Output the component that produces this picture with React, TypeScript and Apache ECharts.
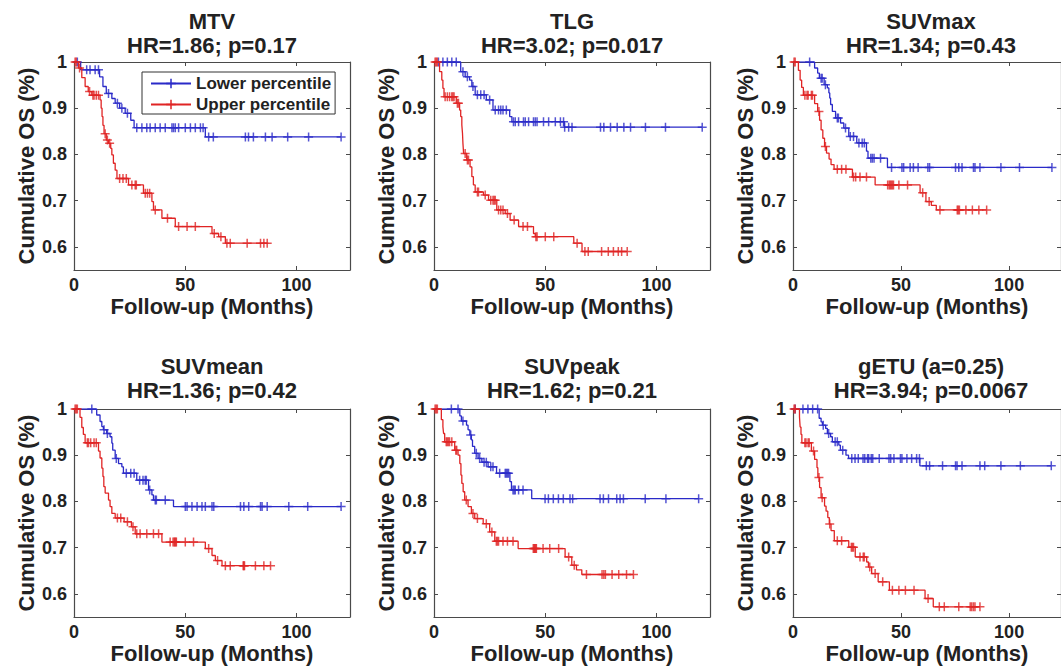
import React, { useEffect, useRef } from 'react';
import * as echarts from 'echarts';

type Step = [number, number];

// ---------- text ----------
const PANEL_TITLES = ['MTV', 'TLG', 'SUVmax', 'SUVmean', 'SUVpeak', 'gETU (a=0.25)'];
const PANEL_STATS = [
  'HR=1.86; p=0.17',
  'HR=3.02; p=0.017',
  'HR=1.34; p=0.43',
  'HR=1.36; p=0.42',
  'HR=1.62; p=0.21',
  'HR=3.94; p=0.0067',
];
const GROUP_NAMES = ['Lower percentile', 'Upper percentile'];
const X_LABEL = 'Follow-up (Months)';
const Y_LABEL = 'Cumulative OS (%)';
const X_TICKS = [0, 50, 100];
const Y_TICKS = [0.6, 0.7, 0.8, 0.9, 1];

// ---------- data: steps = [time, survival after the drop]; censor = censoring times ----------
const mtvLowerSteps: Step[] = [[3, 0.983], [11.5, 0.968], [13, 0.947], [14.5, 0.932], [17, 0.921], [18.5, 0.911], [20.5, 0.9], [23, 0.889], [25.5, 0.874], [27, 0.858], [59, 0.838]];
const mtvLowerCensor = [1.5, 5.7, 7.2, 9.5, 11, 15.5, 19.5, 21.5, 24, 28.2, 30.5, 32.7, 34.2, 36.5, 38.7, 41, 44, 44.7, 45.5, 47, 50, 52.3, 54.5, 56.8, 58, 60.5, 62.6, 77, 78.4, 80.6, 86, 89, 96, 105.4, 120];
const mtvUpperSteps: Step[] = [[2, 0.987], [3.5, 0.966], [5, 0.947], [6.4, 0.936], [8, 0.928], [11.7, 0.918], [12.2, 0.9], [12.6, 0.882], [13, 0.863], [13.5, 0.845], [14.5, 0.831], [15.5, 0.824], [16.5, 0.813], [17, 0.799], [17.7, 0.781], [18.5, 0.766], [19.3, 0.748], [24.5, 0.734], [31.2, 0.716], [35, 0.698], [35.7, 0.68], [39.5, 0.662], [45.5, 0.644], [62, 0.629], [65, 0.622], [68, 0.608]];
const mtvUpperCensor = [0.5, 1, 2.5, 7, 8.5, 9, 10, 11, 14, 15, 16, 20.5, 22, 23.5, 26, 27.5, 28, 32, 33, 34, 36.5, 42, 47, 50.8, 54.5, 63, 66, 68.7, 70.2, 77.8, 83.8, 85.3, 86.8];

const tlgLowerSteps: Step[] = [[12, 0.979], [14, 0.968], [16, 0.961], [17, 0.947], [18.5, 0.929], [23.5, 0.918], [26.5, 0.896], [34, 0.882], [35, 0.871], [58.5, 0.859]];
const tlgLowerCensor = [2, 4, 6, 8, 10, 13, 15, 17.5, 19.5, 21, 22.5, 25, 27.5, 29, 30, 31, 32.5, 35.7, 36.5, 38, 40.2, 41, 42.5, 44.7, 45.5, 46.3, 49.2, 51.5, 54.5, 56.8, 58.2, 58.7, 60.5, 62, 74.8, 76.3, 79.3, 82.3, 85.3, 88.3, 95, 104, 120.5];
const tlgUpperSteps: Step[] = [[2.5, 0.979], [3.5, 0.961], [4, 0.943], [4.5, 0.925], [10, 0.911], [11.5, 0.896], [12, 0.882], [12.5, 0.864], [12.8, 0.846], [13, 0.824], [13.3, 0.802], [14.7, 0.788], [16.2, 0.773], [17, 0.752], [17.7, 0.734], [18.5, 0.719], [22.2, 0.712], [24.5, 0.701], [28.2, 0.68], [32, 0.672], [34.2, 0.658], [38, 0.644], [44.7, 0.629], [45.5, 0.622], [62.8, 0.608], [66.5, 0.59]];
const tlgUpperCensor = [0.5, 1, 1.5, 5, 6, 7, 8, 8.5, 9, 10.5, 11, 14, 15, 15.5, 19.5, 20, 23, 25.5, 26.5, 27, 27.5, 29, 30, 31, 33, 36, 40, 42, 45.8, 46.3, 50, 53.8, 64.3, 67.8, 69.3, 75.3, 78.3, 80.6, 82.8, 84.3, 86.8];

const suvmaxLowerSteps: Step[] = [[10, 0.987], [11.4, 0.976], [12.2, 0.965], [14.4, 0.951], [15.9, 0.944], [16.6, 0.933], [17, 0.922], [17.4, 0.908], [18.2, 0.893], [19.7, 0.879], [22, 0.868], [23.5, 0.857], [25.8, 0.839], [29.5, 0.825], [34, 0.807], [34.7, 0.792], [43.7, 0.772]];
const suvmaxLowerCensor = [7.7, 13, 13.5, 15, 20.5, 21, 24.3, 26.5, 28, 30.5, 32, 33, 36, 36.7, 37.5, 40.5, 45.6, 50.4, 51.2, 54.2, 55.7, 57.9, 62.4, 63.2, 75.2, 76.7, 78.2, 83.5, 84.2, 86.5, 96.2, 104.8, 119.8];
const suvmaxUpperSteps: Step[] = [[2.5, 0.982], [3.3, 0.961], [4, 0.945], [4.8, 0.928], [10, 0.91], [11.4, 0.893], [12.3, 0.874], [13, 0.853], [13.8, 0.835], [14.6, 0.817], [15.5, 0.803], [16.7, 0.79], [17.6, 0.778], [19, 0.768], [27.5, 0.751], [38, 0.734], [58.8, 0.717], [61.5, 0.698], [64, 0.69], [66.3, 0.68]];
const suvmaxUpperCensor = [0.5, 1, 5.5, 6.5, 7, 8.5, 9, 12, 15, 20.5, 22.5, 24.5, 28, 29, 31, 34, 43.8, 44.5, 45, 45.5, 46, 46.5, 49, 53, 60, 63, 68, 76, 76.5, 77, 80, 83, 86, 89.6];

const suvmeanLowerSteps: Step[] = [[10.2, 0.987], [11.7, 0.973], [12.5, 0.962], [13.2, 0.955], [14.7, 0.947], [16.2, 0.94], [17, 0.926], [17.4, 0.911], [18.5, 0.893], [20, 0.882], [21.5, 0.875], [22.2, 0.861], [28.2, 0.846], [33.5, 0.825], [35, 0.814], [35.7, 0.803], [44.7, 0.789]];
const suvmeanLowerCensor = [8, 13.5, 15, 19, 23.5, 25.5, 27, 29.5, 31, 32, 32.5, 34, 36.5, 37, 41, 50, 50.8, 53, 55.3, 57.5, 59, 62, 62.8, 74.8, 76.3, 78.5, 83.8, 84.5, 86.8, 96.5, 105, 120];
const suvmeanUpperSteps: Step[] = [[2.7, 0.982], [3.5, 0.96], [4.2, 0.945], [5, 0.927], [11, 0.909], [11.7, 0.894], [12.5, 0.872], [13, 0.854], [13.4, 0.832], [14, 0.818], [15.5, 0.803], [16.2, 0.789], [17, 0.774], [18.5, 0.764], [22.5, 0.756], [25.8, 0.745], [27.5, 0.73], [39.5, 0.712], [59, 0.698], [62, 0.683], [63.5, 0.672], [66.5, 0.661]];
const suvmeanUpperCensor = [0.5, 1, 1.5, 6, 6.5, 7.5, 9, 10, 19.5, 21, 24, 26.5, 28.2, 29.7, 32.7, 35.7, 38, 43.2, 44.5, 45, 45.3, 45.7, 46, 50, 53.7, 60.5, 64.5, 68, 70.2, 76, 76.3, 76.6, 81.5, 85.3, 88.3];

const suvpeakLowerSteps: Step[] = [[11.6, 0.985], [12.3, 0.974], [14.6, 0.965], [15.3, 0.955], [16.1, 0.944], [16.8, 0.933], [17.3, 0.919], [18.3, 0.904], [19.8, 0.893], [21.5, 0.885], [24.3, 0.875], [28.1, 0.861], [34.1, 0.843], [34.8, 0.825], [43.9, 0.806]];
const suvpeakLowerCensor = [7.8, 10.8, 13, 16.5, 19, 20.5, 22.5, 23.5, 25.5, 26.5, 29.5, 32, 32.5, 33, 33.5, 35.5, 36, 36.5, 38, 40, 49.9, 51.4, 53.6, 55.9, 58.1, 61.1, 62.3, 74.6, 76.1, 78.4, 82.1, 83.6, 85.1, 94.9, 104.2, 118.9];
const suvpeakUpperSteps: Step[] = [[3.3, 0.977], [4, 0.962], [4.3, 0.947], [4.8, 0.929], [9.3, 0.911], [10.8, 0.9], [11.6, 0.882], [12.1, 0.857], [12.5, 0.839], [13.1, 0.821], [13.8, 0.803], [15.3, 0.789], [16.8, 0.774], [18.3, 0.763], [22.1, 0.752], [25, 0.734], [27.3, 0.714], [37.8, 0.698], [58.9, 0.68], [61.9, 0.662], [64, 0.652], [66.4, 0.642]];
const suvpeakUpperCensor = [0.5, 1, 1.5, 5.5, 6, 6.5, 7, 8, 9.8, 10.2, 14.5, 17.5, 19.5, 23.5, 26, 28, 28.5, 29, 31, 33, 35.5, 44.6, 45, 45.3, 45.7, 46, 49, 52, 56, 60.5, 63, 68.5, 75.5, 76.3, 77, 80, 83, 86.5, 89.6];

const getuLowerSteps: Step[] = [[12.1, 0.98], [13, 0.972], [13.6, 0.965], [15.1, 0.958], [15.9, 0.947], [17.4, 0.94], [18.2, 0.929], [21.2, 0.922], [21.9, 0.911], [24.5, 0.9], [25.7, 0.893], [58.7, 0.877]];
const getuLowerCensor = [1, 4.6, 6.9, 9.1, 11.4, 14, 16.5, 19.5, 20.5, 23, 27.2, 28.7, 30.2, 32.4, 33.2, 34.5, 35, 36.2, 36.9, 39.9, 44.4, 45.2, 46.7, 49.7, 50.4, 52.7, 54.9, 57.2, 58.5, 61.7, 63.2, 69.2, 75.2, 75.9, 78.2, 86.5, 88.7, 96.2, 105.2, 119.5];
const getuUpperSteps: Step[] = [[3, 0.983], [3.3, 0.961], [3.7, 0.945], [4.1, 0.927], [8.5, 0.909], [10, 0.891], [11.1, 0.873], [11.5, 0.852], [12.3, 0.83], [13, 0.808], [14.6, 0.79], [15.3, 0.779], [16.1, 0.765], [16.8, 0.751], [17.6, 0.737], [19.1, 0.715], [25.8, 0.701], [28.8, 0.68], [34.1, 0.669], [34.9, 0.658], [36.4, 0.644], [39.4, 0.626], [44.6, 0.608], [61.1, 0.59], [64.9, 0.572]];
const getuUpperCensor = [0.5, 1, 5.5, 6, 7, 7.5, 9.5, 12, 13.5, 17, 20.5, 22.5, 27, 27.5, 28, 31, 32.5, 33, 35.5, 38, 41.5, 46, 49, 52, 56, 62.5, 67.7, 70, 76.7, 82, 82.7, 83.5, 84.2, 86.5];

const PANELS = [
  { lower: mtvLowerSteps, lowerC: mtvLowerCensor, upper: mtvUpperSteps, upperC: mtvUpperCensor },
  { lower: tlgLowerSteps, lowerC: tlgLowerCensor, upper: tlgUpperSteps, upperC: tlgUpperCensor },
  { lower: suvmaxLowerSteps, lowerC: suvmaxLowerCensor, upper: suvmaxUpperSteps, upperC: suvmaxUpperCensor },
  { lower: suvmeanLowerSteps, lowerC: suvmeanLowerCensor, upper: suvmeanUpperSteps, upperC: suvmeanUpperCensor },
  { lower: suvpeakLowerSteps, lowerC: suvpeakLowerCensor, upper: suvpeakUpperSteps, upperC: suvpeakUpperCensor },
  { lower: getuLowerSteps, lowerC: getuLowerCensor, upper: getuUpperSteps, upperC: getuUpperCensor },
];

// ---------- style / layout ----------
const BLUE = '#2a2ac8';
const RED = '#e02424';
const AXIS = '#4a4a4a';
const TEXT = '#222222';
const FONT = '"Liberation Sans", Arial, Helvetica, sans-serif';
const PLUS = 'path://M0,4L8,4M4,0L4,8';
const GRID_LEFT = [74, 434, 793];
const GRID_TOP = [62, 409];
const TITLE_TOP = [9, 354];
const GRID_W = 276;
const GRID_H = 208;
const X_MAX = 124;
const Y_MIN = 0.55;
const Y_MAX = 1;

function survivalAt(steps: Step[], t: number): number {
  let s = 1;
  for (const [st, sv] of steps) {
    if (st <= t) s = sv;
    else break;
  }
  return s;
}

function curveData(steps: Step[], censor: number[]): number[][] {
  const pts: number[][] = [[0, 1], ...steps.map((p) => [p[0], p[1]])];
  const lastT = Math.max(...censor);
  const last = steps[steps.length - 1];
  if (lastT > last[0]) pts.push([lastT, last[1]]);
  return pts;
}

function censorData(steps: Step[], censor: number[]): number[][] {
  return censor.map((t) => [t, survivalAt(steps, t)]);
}

function buildOption() {
  const grid: any[] = [];
  const xAxis: any[] = [];
  const yAxis: any[] = [];
  const series: any[] = [];
  const title: any[] = [];
  const lineCommon = { show: true, onZero: false, lineStyle: { color: AXIS, width: 1.2 } };
  const tickCommon = { show: true, inside: true, length: 4, lineStyle: { color: AXIS, width: 1 } };
  const labelStyle = { fontSize: 18, fontWeight: 'bold', color: TEXT, fontFamily: FONT };
  const nameStyle = { fontSize: 22, fontWeight: 'bold', color: TEXT, fontFamily: FONT };

  PANELS.forEach((p, i) => {
    const col = i % 3;
    const row = Math.floor(i / 3);
    grid.push({ left: GRID_LEFT[col], top: GRID_TOP[row], width: GRID_W, height: GRID_H });
    title.push({
      text: PANEL_TITLES[i] + '\n' + PANEL_STATS[i],
      left: GRID_LEFT[col] + GRID_W / 2,
      top: TITLE_TOP[row],
      textAlign: 'center',
      padding: 0,
      textStyle: { ...nameStyle, lineHeight: 24 },
    });
    xAxis.push({
      type: 'value', gridIndex: i, min: 0, max: X_MAX, position: 'bottom',
      axisLine: lineCommon,
      axisTick: { ...tickCommon, customValues: X_TICKS },
      axisLabel: { ...labelStyle, margin: 6, customValues: X_TICKS },
      splitLine: { show: false },
      name: X_LABEL, nameLocation: 'middle', nameGap: 25, nameTextStyle: nameStyle,
    });
    xAxis.push({
      type: 'value', gridIndex: i, min: 0, max: X_MAX, position: 'top',
      axisLine: lineCommon,
      axisTick: { ...tickCommon, customValues: X_TICKS },
      axisLabel: { show: false },
      splitLine: { show: false },
    });
    yAxis.push({
      type: 'value', gridIndex: i, min: Y_MIN, max: Y_MAX, position: 'left',
      axisLine: lineCommon,
      axisTick: { ...tickCommon, customValues: Y_TICKS },
      axisLabel: { ...labelStyle, margin: 7, customValues: Y_TICKS },
      splitLine: { show: false },
      name: Y_LABEL, nameLocation: 'middle', nameGap: 37, nameTextStyle: nameStyle,
    });
    yAxis.push({
      type: 'value', gridIndex: i, min: Y_MIN, max: Y_MAX, position: 'right',
      axisLine: lineCommon,
      axisTick: { ...tickCommon, customValues: Y_TICKS },
      axisLabel: { show: false },
      splitLine: { show: false },
    });
    const groups = [
      { steps: p.lower, censor: p.lowerC, color: BLUE, name: GROUP_NAMES[0] },
      { steps: p.upper, censor: p.upperC, color: RED, name: GROUP_NAMES[1] },
    ];
    groups.forEach((g, gi) => {
      series.push({
        type: 'line', name: g.name, xAxisIndex: 2 * i, yAxisIndex: 2 * i,
        data: curveData(g.steps, g.censor), step: 'end',
        showSymbol: false, symbol: PLUS, symbolSize: 9,
        lineStyle: { color: g.color, width: 1.3 },
        itemStyle: { color: g.color, borderColor: g.color, borderWidth: 1.5 },
        silent: true, z: 2 + gi * 2,
      });
      series.push({
        type: 'scatter', name: g.name + ' (censored)', xAxisIndex: 2 * i, yAxisIndex: 2 * i,
        data: censorData(g.steps, g.censor),
        symbol: PLUS, symbolSize: 9,
        itemStyle: { color: g.color, borderColor: g.color, borderWidth: 1.5 },
        silent: true, z: 3 + gi * 2,
      });
    });
  });

  return {
    animation: false,
    backgroundColor: '#ffffff',
    title,
    grid,
    xAxis,
    yAxis,
    series,
    legend: {
      data: GROUP_NAMES,
      orient: 'vertical',
      left: 142,
      top: 72,
      padding: [3, 4, 1, 8],
      itemGap: 4,
      itemWidth: 40,
      itemHeight: 12,
      borderColor: '#333',
      borderWidth: 1,
      backgroundColor: '#fff',
      selectedMode: false,
      itemStyle: { borderWidth: 1.5 },
      textStyle: { fontSize: 17, fontWeight: 'bold', color: TEXT, fontFamily: FONT },
    },
  };
}

export default function App() {
  const ref = useRef<HTMLDivElement>(null);
  useEffect(() => {
    if (!ref.current) return;
    const chart = echarts.init(ref.current, undefined, { renderer: 'svg' });
    chart.setOption(buildOption() as any);
    return () => chart.dispose();
  }, []);
  return (
    <div
      ref={ref}
      style={{ position: 'absolute', left: 0, top: 0, width: 1061, height: 669, background: '#fff' }}
    />
  );
}
